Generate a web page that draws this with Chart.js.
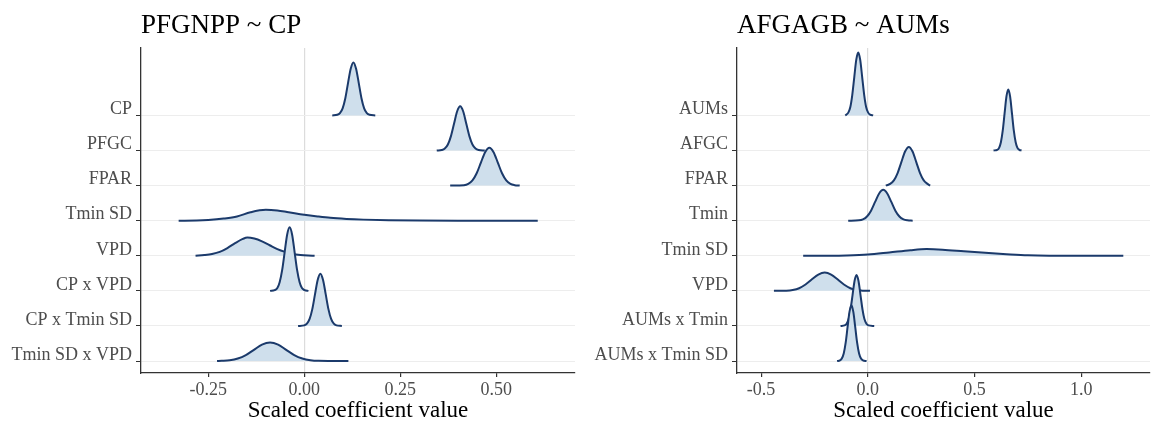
<!DOCTYPE html>
<html>
<head>
<meta charset="utf-8">
<script src="https://cdn.jsdelivr.net/npm/chart.js@4.4.1/dist/chart.umd.min.js"></script>
<style>
  html, body { margin: 0; padding: 0; background: #fff; }
  #wrap { position: relative; width: 1153px; height: 422px; overflow: hidden; }
  canvas { position: absolute; top: 0; }
</style>
</head>
<body>
<div id="wrap">
  <canvas id="left-chart" width="580" height="422" style="left:0"></canvas>
  <canvas id="right-chart" width="573" height="422" style="left:580px"></canvas>
</div>
<script>
/* ===== Data ===== */
// row labels, top to bottom
const leftTitle = 'PFGNPP ~ CP';
const leftLabels = ['CP', 'PFGC', 'FPAR', 'Tmin SD', 'VPD', 'CP x VPD', 'CP x Tmin SD', 'Tmin SD x VPD'];
const leftXTicks = [-0.25, 0, 0.25, 0.5];
const leftXTickLabels = ['-0.25', '0.00', '0.25', '0.50'];

// density outlines: x positions and ridge heights (in row units), one list per row
const leftRidgeX = [
    [0.073, 0.086, 0.093, 0.100, 0.107, 0.114, 0.121, 0.128, 0.135, 0.142, 0.149, 0.156, 0.163, 0.170, 0.185],
    [0.345, 0.358, 0.366, 0.374, 0.382, 0.390, 0.398, 0.406, 0.414, 0.422, 0.430, 0.438, 0.446, 0.454, 0.470],
    [0.380, 0.416, 0.427, 0.438, 0.449, 0.460, 0.471, 0.482, 0.493, 0.504, 0.515, 0.526, 0.537, 0.548, 0.561],
    [-0.327, -0.28, -0.25, -0.21, -0.175, -0.14, -0.1, -0.07, -0.045, 0, 0.035, 0.068, 0.11, 0.154, 0.22, 0.3, 0.4, 0.608],
    [-0.283, -0.26, -0.24, -0.22, -0.2, -0.18, -0.16, -0.148, -0.13, -0.11, -0.09, -0.07, -0.05, -0.03, -0.01, 0.01, 0.027],
    [-0.089, -0.077, -0.070, -0.064, -0.0575, -0.051, -0.0445, -0.038, -0.0315, -0.025, -0.0185, -0.012, -0.006, 0.001, 0.011],
    [-0.016, 0.0, 0.007, 0.014, 0.021, 0.028, 0.035, 0.042, 0.049, 0.056, 0.063, 0.070, 0.077, 0.084, 0.098],
    [-0.227, -0.215, -0.194, -0.173, -0.152, -0.131, -0.110, -0.089, -0.068, -0.047, -0.026, -0.005, 0.016, 0.037, 0.115]
];
const leftRidgeH = [
    [0, 0.017, 0.066, 0.20, 0.49, 0.92, 1.33, 1.51, 1.33, 0.92, 0.49, 0.20, 0.066, 0.017, 0],
    [0, 0.014, 0.055, 0.17, 0.41, 0.76, 1.11, 1.26, 1.11, 0.76, 0.41, 0.17, 0.055, 0.014, 0],
    [0, 0.012, 0.047, 0.146, 0.35, 0.655, 0.953, 1.08, 0.953, 0.655, 0.35, 0.146, 0.047, 0.012, 0],
    [0, 0.005, 0.02, 0.06, 0.12, 0.24, 0.31, 0.29, 0.25, 0.17, 0.12, 0.08, 0.05, 0.03, 0.012, 0.003, 0, 0],
    [0, 0.02, 0.05, 0.11, 0.22, 0.36, 0.48, 0.52, 0.49, 0.41, 0.30, 0.19, 0.11, 0.05, 0.02, 0.005, 0],
    [0, 0.02, 0.08, 0.245, 0.59, 1.10, 1.60, 1.81, 1.60, 1.10, 0.59, 0.245, 0.08, 0.02, 0],
    [0, 0.017, 0.065, 0.20, 0.48, 0.90, 1.31, 1.49, 1.31, 0.90, 0.48, 0.20, 0.065, 0.017, 0],
    [0, 0.006, 0.023, 0.072, 0.17, 0.32, 0.47, 0.53, 0.47, 0.32, 0.17, 0.072, 0.023, 0.006, 0]
];

const rightTitle = 'AFGAGB ~ AUMs';
const rightLabels = ['AUMs', 'AFGC', 'FPAR', 'Tmin', 'Tmin SD', 'VPD', 'AUMs x Tmin', 'AUMs x Tmin SD'];
const rightXTicks = [-0.5, 0, 0.5, 1.0];
const rightXTickLabels = ['-0.5', '0.0', '0.5', '1.0'];

const rightRidgeX = [
    [-0.106, -0.101, -0.0915, -0.082, -0.073, -0.0636, -0.0543, -0.045, -0.0357, -0.0264, -0.017, -0.008, 0.0015, 0.011, 0.025],
    [0.589, 0.606, 0.615, 0.6234, 0.632, 0.6407, 0.6493, 0.658, 0.6667, 0.6753, 0.684, 0.6926, 0.701, 0.710, 0.720],
    [0.084, 0.092, 0.1045, 0.122, 0.1395, 0.157, 0.1745, 0.192, 0.2095, 0.227, 0.2445, 0.262, 0.2795, 0.292],
    [-0.092, -0.042, -0.023, -0.004, 0.015, 0.034, 0.053, 0.072, 0.091, 0.110, 0.129, 0.148, 0.167, 0.186, 0.210],
    [-0.303, -0.2, -0.1, 0, 0.1, 0.2, 0.275, 0.35, 0.45, 0.55, 0.65, 0.75, 0.85, 1.197],
    [-0.44, -0.382, -0.352, -0.322, -0.292, -0.262, -0.232, -0.202, -0.172, -0.142, -0.112, -0.082, -0.052, -0.022, 0.01],
    [-0.128, -0.109, -0.0995, -0.090, -0.081, -0.0716, -0.0623, -0.053, -0.0437, -0.0344, -0.025, -0.016, -0.0065, 0.003, 0.030],
    [-0.144, -0.131, -0.122, -0.113, -0.104, -0.095, -0.086, -0.077, -0.068, -0.059, -0.050, -0.041, -0.032, -0.023, -0.006]
];
const rightRidgeH = [
    [0, 0.02, 0.079, 0.24, 0.58, 1.086, 1.58, 1.79, 1.58, 1.086, 0.58, 0.24, 0.079, 0.02, 0],
    [0, 0.019, 0.076, 0.235, 0.565, 1.055, 1.535, 1.74, 1.535, 1.055, 0.565, 0.235, 0.076, 0.019, 0],
    [0, 0.018, 0.048, 0.149, 0.357, 0.667, 0.97, 1.10, 0.97, 0.667, 0.357, 0.149, 0.048, 0],
    [0, 0.01, 0.039, 0.119, 0.286, 0.534, 0.776, 0.88, 0.776, 0.534, 0.286, 0.119, 0.039, 0.01, 0],
    [0, 0.002, 0.01, 0.035, 0.095, 0.16, 0.19, 0.175, 0.13, 0.085, 0.045, 0.012, 0.002, 0],
    [0, 0.006, 0.025, 0.075, 0.18, 0.33, 0.465, 0.52, 0.465, 0.33, 0.18, 0.075, 0.025, 0.006, 0],
    [0, 0.016, 0.064, 0.196, 0.47, 0.88, 1.28, 1.45, 1.28, 0.88, 0.47, 0.196, 0.064, 0.016, 0],
    [0, 0.018, 0.07, 0.215, 0.516, 0.964, 1.40, 1.59, 1.40, 0.964, 0.516, 0.215, 0.07, 0.018, 0]
];

/* ===== Styling ===== */
Chart.defaults.font.family = "'Liberation Serif', 'Times New Roman', serif";
Chart.defaults.color = '#4d4d4d';

const LINE_COLOR = '#1b3a6b';
const FILL_COLOR = '#cfdfec';
const GRID_COLOR = '#ededed';
const ZERO_COLOR = '#dcdcdc';
const AXIS_COLOR = '#333333';

const panelTitle = {
    id: 'panelTitle',
    afterDraw(chart, args, opts) {
        const ctx = chart.ctx;
        ctx.save();
        ctx.font = "27px 'Liberation Serif', 'Times New Roman', serif";
        ctx.fillStyle = '#000';
        ctx.textBaseline = 'alphabetic';
        ctx.textAlign = 'left';
        ctx.fillText(opts.text, chart.chartArea.left, 33);
        ctx.restore();
    }
};

function makeRidgeChart(canvasId, title, labels, ridgeX, ridgeH, xTicks, xTickLabels, xMin, xMax, yAxisWidth, padRight) {
    const n = labels.length;
    // row i (top to bottom) sits on baseline n - i
    const datasets = labels.map((lab, i) => {
        const base = n - i;
        return {
            label: lab,
            data: ridgeX[i].map((x, j) => ({ x: x, y: base + ridgeH[i][j] })),
            borderColor: LINE_COLOR,
            backgroundColor: FILL_COLOR,
            borderWidth: 2,
            pointRadius: 0,
            cubicInterpolationMode: 'monotone',
            fill: { value: base },
            order: base
        };
    });

    return new Chart(document.getElementById(canvasId), {
        type: 'line',
        data: { datasets },
        plugins: [panelTitle],
        options: {
            responsive: false,
            animation: false,
            layout: { padding: { top: 48, right: padRight, left: 0, bottom: 0 } },
            plugins: {
                legend: { display: false },
                tooltip: { enabled: false },
                panelTitle: { text: title }
            },
            scales: {
                x: {
                    type: 'linear',
                    min: xMin, max: xMax,
                    afterBuildTicks: s => { s.ticks = xTicks.map(v => ({ value: v })); },
                    afterFit: s => { s.height = 49; },
                    ticks: {
                        padding: 2,
                        font: { size: 18 },
                        color: '#4d4d4d',
                        maxRotation: 0,
                        callback: (v) => xTickLabels[xTicks.indexOf(v)]
                    },
                    grid: {
                        color: c => (c.tick && c.tick.value === 0) ? ZERO_COLOR : 'rgba(0,0,0,0)',
                        lineWidth: 1.2,
                        tickColor: AXIS_COLOR,
                        tickLength: 4
                    },
                    border: { display: true, color: AXIS_COLOR, width: 1.3 },
                    title: {
                        display: true,
                        text: 'Scaled coefficient value',
                        color: '#000',
                        font: { size: 23 },
                        padding: { top: 0, bottom: -3 }
                    }
                },
                y: {
                    type: 'linear',
                    min: 0.66, max: 9.92,
                    afterBuildTicks: s => { s.ticks = labels.map((l, i) => ({ value: n - i })); },
                    afterFit: s => { s.width = yAxisWidth; },
                    ticks: {
                        padding: 4,
                        labelOffset: -6,
                        font: { size: 18 },
                        color: '#4d4d4d',
                        callback: (v) => labels[n - v]
                    },
                    grid: {
                        color: GRID_COLOR,
                        lineWidth: 1,
                        tickColor: AXIS_COLOR,
                        tickLength: 5
                    },
                    border: { display: true, color: AXIS_COLOR, width: 1.3 }
                }
            }
        }
    });
}

makeRidgeChart('left-chart', leftTitle, leftLabels, leftRidgeX, leftRidgeH,
    leftXTicks, leftXTickLabels, -0.425, 0.705, 141, 5);
makeRidgeChart('right-chart', rightTitle, rightLabels, rightRidgeX, rightRidgeH,
    rightXTicks, rightXTickLabels, -0.613, 1.322, 157, 3);
</script>
</body>
</html>
